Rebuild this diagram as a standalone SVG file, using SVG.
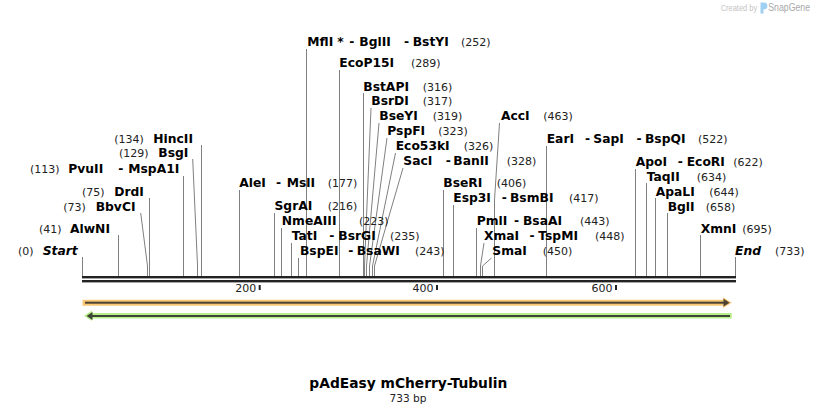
<svg xmlns="http://www.w3.org/2000/svg" width="818" height="415" viewBox="0 0 818 415">
<style>
.b{font-family:"DejaVu Sans",Verdana,sans-serif;font-weight:bold;font-size:12.3px;fill:#000}
.bi{font-family:"DejaVu Sans",Verdana,sans-serif;font-weight:bold;font-style:italic;font-size:12.3px;fill:#000}
.n{font-family:"DejaVu Sans",Verdana,sans-serif;font-size:11px;fill:#222}
.ln{stroke:#808080;stroke-width:1;fill:none}
.bar{fill:#222}
</style>
<rect width="818" height="415" fill="#fff"/>

<g id="watermark">
<text x="720.7" y="10.5" font-family="'Liberation Sans',Arial,sans-serif" font-size="8.5" fill="#c4c4c4" textLength="36.5" lengthAdjust="spacingAndGlyphs">Created by</text>
<path d="M760.5,2.5 h3.5 a3.4,3.4 0 0 1 0,6.8 h-0.5 v4.2 h-3 Z" fill="#9fd0f2"/>
<text x="768.3" y="11" font-family="'Liberation Sans',Arial,sans-serif" font-size="10.5" fill="#a8a8a8" textLength="41.7" lengthAdjust="spacingAndGlyphs">SnapGene</text>
</g>

<g id="connectors" class="ln">
<path d="M82.5,257V276"/>
<path d="M118.5,235V276"/>
<path d="M140.7,213L147.5,266V276"/>
<path d="M149.5,198V276"/>
<path d="M183.5,176V276"/>
<path d="M192.7,159L197.5,265V276"/>
<path d="M201.5,145V276"/>
<path d="M239.5,190V276"/>
<path d="M274.5,213V276"/>
<path d="M281.5,228V276"/>
<path d="M291.5,243V276"/>
<path d="M298.5,258V276"/>
<path d="M306.5,49V276"/>
<path d="M339.5,70V276"/>
<path d="M363.5,93V276"/>
<path d="M371,108L364.5,266V276"/>
<path d="M379,123L366.5,266V276"/>
<path d="M387,138L369.5,266V276"/>
<path d="M395.5,153L372.5,266V276"/>
<path d="M403,168L374.5,266V276"/>
<path d="M443.5,190V276"/>
<path d="M453.5,205V276"/>
<path d="M476.5,228V276"/>
<path d="M484,243L480.5,266V276"/>
<path d="M491.5,258L482.5,266V276"/>
<path d="M499.5,123L494.5,200V276"/>
<path d="M546.5,146V276"/>
<path d="M635.5,169V276"/>
<path d="M646.5,183V276"/>
<path d="M655.5,198V276"/>
<path d="M667.5,213V276"/>
<path d="M700.5,235V276"/>
<path d="M735.5,257V276"/>
</g>

<g id="ruler">
<rect class="bar" x="82" y="276" width="654" height="2.4"/>
<rect class="bar" x="82" y="280" width="654" height="2.4"/>
<rect class="bar" x="258.7" y="285" width="2" height="5"/>
<rect class="bar" x="436" y="285" width="2" height="5"/>
<rect class="bar" x="615" y="285" width="2" height="5"/>
<text class="n" x="256.2" y="292.3" text-anchor="end">200</text>
<text class="n" x="433.5" y="292.3" text-anchor="end">400</text>
<text class="n" x="612.5" y="292.3" text-anchor="end">600</text>
</g>

<g id="feature-forward">
<path d="M82.5,299.7H723V297.3L731.8,302.7L723,308.1V305.7H82.5Z" fill="#f9c776"/>
<rect x="85" y="301.7" width="639" height="2" fill="#4a4232"/>
<path d="M723.5,298.8L729.6,302.7L723.5,306.6Z" fill="#4a4232"/>
</g>
<g id="feature-reverse">
<path d="M731.8,313V318.5H92V321L84,315.8L92,310.6V313Z" fill="#b9ef8c"/>
<rect x="90" y="315" width="640" height="2" fill="#3c4835"/>
<path d="M92.5,312L86.6,316L92.5,320Z" fill="#3c4835"/>
</g>

<g id="site-start"><text class="n" x="18" y="255">(0)</text><text class="bi" x="42.7" y="255">Start</text></g>
<g id="site-AlwNI"><text class="n" x="39" y="232.5">(41)</text><text class="b" x="70" y="232.5">AlwNI</text></g>
<g id="site-BbvCI"><text class="n" x="63.3" y="210.5">(73)</text><text class="b" x="95.7" y="210.5">BbvCI</text></g>
<g id="site-DrdI"><text class="n" x="82" y="195.5">(75)</text><text class="b" x="114.3" y="195.5">DrdI</text></g>
<g id="site-PvuII"><text class="n" x="30" y="173.3">(113)</text><text class="b" y="173.3"><tspan x="68.3">PvuII</tspan><tspan x="118.3">-</tspan><tspan x="128.3">MspA1I</tspan></text></g>
<g id="site-BsgI"><text class="n" x="119" y="157.3">(129)</text><text class="b" x="158.3" y="157.3">BsgI</text></g>
<g id="site-HincII"><text class="n" x="114.3" y="142.5">(134)</text><text class="b" x="153.3" y="142.5">HincII</text></g>
<g id="site-AleI"><text class="b" y="186.7"><tspan x="239.3">AleI</tspan><tspan x="276">-</tspan><tspan x="286.7">MslI</tspan></text><text class="n" x="327.7" y="186.7">(177)</text></g>
<g id="site-SgrAI"><text class="b" x="274.5" y="210">SgrAI</text><text class="n" x="327.7" y="210">(216)</text></g>
<g id="site-NmeAIII"><text class="b" x="281.8" y="225">NmeAIII</text><text class="n" x="359" y="225">(223)</text></g>
<g id="site-TatI"><text class="b" y="240"><tspan x="291.7">TatI</tspan><tspan x="329.3">-</tspan><tspan x="338.3">BsrGI</tspan></text><text class="n" x="390" y="240">(235)</text></g>
<g id="site-BspEI"><text class="b" y="255"><tspan x="300">BspEI</tspan><tspan x="348.3">-</tspan><tspan x="356.7">BsaWI</tspan></text><text class="n" x="415" y="255">(243)</text></g>
<g id="site-MflI"><text class="b" y="46"><tspan x="307.3">MflI</tspan><tspan x="337.3">*</tspan><tspan x="349.3">-</tspan><tspan x="359.3">BglII</tspan><tspan x="404">-</tspan><tspan x="412.7">BstYI</tspan></text><text class="n" x="461" y="46">(252)</text></g>
<g id="site-EcoP15I"><text class="b" x="339.3" y="66.7">EcoP15I</text><text class="n" x="411" y="66.7">(289)</text></g>
<g id="site-BstAPI"><text class="b" x="363.3" y="90.7">BstAPI</text><text class="n" x="422.7" y="90.7">(316)</text></g>
<g id="site-BsrDI"><text class="b" x="371.3" y="105">BsrDI</text><text class="n" x="422.7" y="105">(317)</text></g>
<g id="site-BseYI"><text class="b" x="379.3" y="120">BseYI</text><text class="n" x="432.7" y="120">(319)</text></g>
<g id="site-PspFI"><text class="b" x="387.3" y="135">PspFI</text><text class="n" x="438.3" y="135">(323)</text></g>
<g id="site-Eco53kI"><text class="b" x="395.7" y="150">Eco53kI</text><text class="n" x="463.7" y="150">(326)</text></g>
<g id="site-SacI"><text class="b" y="165"><tspan x="403.3">SacI</tspan><tspan x="445.7">-</tspan><tspan x="453.3">BanII</tspan></text><text class="n" x="506.7" y="165">(328)</text></g>
<g id="site-BseRI"><text class="b" x="443.3" y="186.7">BseRI</text><text class="n" x="496.7" y="186.7">(406)</text></g>
<g id="site-Esp3I"><text class="b" y="201.7"><tspan x="453.3">Esp3I</tspan><tspan x="501.7">-</tspan><tspan x="510">BsmBI</tspan></text><text class="n" x="569" y="201.7">(417)</text></g>
<g id="site-PmlI"><text class="b" y="225"><tspan x="476.7">PmlI</tspan><tspan x="514">-</tspan><tspan x="523">BsaAI</tspan></text><text class="n" x="580" y="225">(443)</text></g>
<g id="site-XmaI"><text class="b" y="240"><tspan x="484">XmaI</tspan><tspan x="529.5">-</tspan><tspan x="538.3">TspMI</tspan></text><text class="n" x="595" y="240">(448)</text></g>
<g id="site-SmaI"><text class="b" x="492.3" y="255">SmaI</text><text class="n" x="542.7" y="255">(450)</text></g>
<g id="site-AccI"><text class="b" x="501" y="120">AccI</text><text class="n" x="543.3" y="120">(463)</text></g>
<g id="site-EarI"><text class="b" y="142.7"><tspan x="546.7">EarI</tspan><tspan x="585">-</tspan><tspan x="593.3">SapI</tspan><tspan x="636.5">-</tspan><tspan x="645">BspQI</tspan></text><text class="n" x="698" y="142.7">(522)</text></g>
<g id="site-ApoI"><text class="b" y="165.7"><tspan x="635.7">ApoI</tspan><tspan x="677.7">-</tspan><tspan x="686.7">EcoRI</tspan></text><text class="n" x="733.3" y="165.7">(622)</text></g>
<g id="site-TaqII"><text class="b" x="646.7" y="180.7">TaqII</text><text class="n" x="696.7" y="180.7">(634)</text></g>
<g id="site-ApaLI"><text class="b" x="655.7" y="195.7">ApaLI</text><text class="n" x="709.3" y="195.7">(644)</text></g>
<g id="site-BglI"><text class="b" x="667.7" y="210.7">BglI</text><text class="n" x="705.7" y="210.7">(658)</text></g>
<g id="site-XmnI"><text class="b" x="700.7" y="232.7">XmnI</text><text class="n" x="742.3" y="232.7">(695)</text></g>
<g id="site-end"><text class="bi" x="735" y="255">End</text><text class="n" x="775" y="255">(733)</text></g>

<g id="title">
<text x="408.3" y="388.3" text-anchor="middle" font-family="'DejaVu Sans',Verdana,sans-serif" font-weight="bold" font-size="13.8" fill="#000">pAdEasy mCherry-Tubulin</text>
<text x="408" y="401.7" text-anchor="middle" font-family="'DejaVu Sans',Verdana,sans-serif" font-size="10.6" fill="#222">733 bp</text>
</g>
</svg>
